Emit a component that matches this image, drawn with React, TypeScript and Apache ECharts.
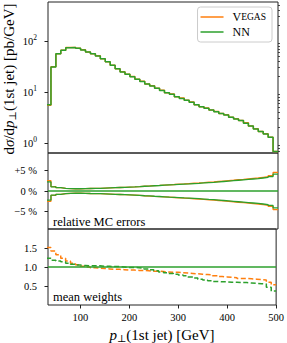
import React, { useEffect, useRef } from 'react';
import * as echarts from 'echarts';

// Bin edges of the p_T(1st jet) histogram [GeV]
const BIN_EDGES = [30, 40, 50, 60, 70, 80, 90, 100, 110, 120, 130, 140, 150, 160, 170, 180, 190, 200,
  210, 220, 230, 240, 250, 260, 270, 280, 290, 300, 310, 320, 330, 340, 350, 360, 370, 380, 390, 400,
  410, 420, 430, 440, 450, 460, 470, 480, 490, 500];

// dσ/dp⊥ [pb/GeV]
const VEGAS_XS = [5.5, 31.2, 56.5, 66, 74.5, 75, 72, 67.5, 61, 56, 51.5, 45, 39.3, 33.5, 28.5, 25.1, 22.3, 20.2,
  17.8, 16.2, 14.4, 13.2, 11.8, 10.8, 9.7, 9.1, 8.1, 7.6, 6.9, 6.35, 5.65, 5.15, 4.85, 4.45, 4.15, 3.8, 3.6, 3.2,
  2.98, 2.75, 2.5, 2.15, 1.9, 1.68, 1.52, 1.3, 0.68];
const NN_XS = [5.6, 31, 56, 66, 74, 75, 72, 67, 61, 56, 51, 45, 39, 33.5, 28.5, 24.8, 22.3, 20,
  17.8, 16, 14.4, 13.1, 11.8, 10.7, 9.7, 9.0, 8.1, 7.5, 6.9, 6.3, 5.6, 5.15, 4.8, 4.45, 4.1, 3.8, 3.55, 3.2,
  2.95, 2.75, 2.45, 2.15, 1.88, 1.68, 1.5, 1.3, 0.68];

// relative MC errors [%]
const VEGAS_ERR = [2.5, 1.05, 0.8, 0.65, 0.58, 0.55, 0.55, 0.57, 0.6, 0.62, 0.65, 0.7, 0.75, 0.8, 0.85, 0.9, 0.95, 1.0,
  1.07, 1.15, 1.22, 1.3, 1.36, 1.43, 1.5, 1.57, 1.65, 1.72, 1.8, 1.88, 1.95, 2.03, 2.12, 2.2, 2.3, 2.4, 2.5, 2.6,
  2.72, 2.83, 2.95, 3.05, 3.15, 3.3, 3.45, 3.7, 4.5];
const NN_ERR = [2.2, 1.0, 0.8, 0.65, 0.58, 0.55, 0.55, 0.57, 0.6, 0.62, 0.65, 0.7, 0.75, 0.8, 0.85, 0.9, 0.95, 1.0,
  1.07, 1.15, 1.2, 1.27, 1.33, 1.4, 1.47, 1.53, 1.6, 1.67, 1.73, 1.8, 1.87, 1.95, 2.03, 2.1, 2.2, 2.3, 2.4, 2.5,
  2.6, 2.7, 2.8, 2.9, 3.0, 3.15, 3.3, 3.5, 4.1];

// mean weights
const VEGAS_W = [1.51, 1.42, 1.32, 1.23, 1.16, 1.10, 1.06, 1.02, 1.00, 0.98, 0.97, 0.96, 0.95, 0.94, 0.94, 0.93, 0.92, 0.92,
  0.91, 0.91, 0.90, 0.89, 0.89, 0.88, 0.87, 0.86, 0.86, 0.85, 0.84, 0.83, 0.82, 0.81, 0.80, 0.79, 0.77, 0.75, 0.74, 0.73,
  0.72, 0.70, 0.70, 0.69, 0.68, 0.67, 0.66, 0.60, 0.53];
const NN_W = [1.23, 1.18, 1.16, 1.14, 1.10, 1.07, 1.05, 1.04, 1.03, 1.03, 1.03, 1.02, 1.02, 1.01, 1.01, 1.00, 0.99, 0.99,
  0.98, 0.97, 0.95, 0.93, 0.90, 0.87, 0.85, 0.83, 0.81, 0.79, 0.77, 0.74, 0.71, 0.68, 0.66, 0.64, 0.62, 0.61, 0.61, 0.60,
  0.60, 0.59, 0.59, 0.58, 0.57, 0.56, 0.55, 0.47, 0.37];

// axis ticks
const X_TICKS = [100, 200, 300, 400, 500];
const LOG_MAJOR = [1, 10, 100];
const LOG_MINOR = [0.7, 0.8, 0.9, 2, 3, 4, 5, 6, 7, 8, 9, 20, 30, 40, 50, 60, 70, 80, 90, 200, 300, 400, 500];
const ERR_TICKS = [-5, 0, 5];
const W_TICKS = [0.5, 1.0, 1.5];

const FONT = '"Liberation Serif", "DejaVu Serif", serif';
const ORANGE = '#ff7f0e';
const GREEN = '#2ca02c';
const AXIS_COLOR = '#222';
const TICK_FS = 10.5;
const TITLE_FS = 15;

function stepPoints(values: number[], sign = 1): number[][] {
  const pts = values.map((v, i) => [BIN_EDGES[i], sign * v]);
  pts.push([BIN_EDGES[values.length], sign * values[values.length - 1]]);
  return pts;
}

function buildOption(): any {
  const grids = [
    { left: 48, right: 9, top: 2, height: 151 },
    { left: 48, right: 9, top: 153, height: 76 },
    { left: 48, right: 9, top: 229, height: 76 },
  ].map((g) => ({ ...g, show: true, borderColor: AXIS_COLOR, borderWidth: 1, backgroundColor: 'transparent' }));

  const xAxes = [0, 1, 2].map((i) => ({
    type: 'value',
    gridIndex: i,
    min: 34,
    max: 500,
    axisLine: { show: false },
    splitLine: { show: false },
    axisTick: i === 2
      ? { show: true, customValues: X_TICKS, length: 3.5, lineStyle: { color: AXIS_COLOR } }
      : { show: false },
    axisLabel: i === 2
      ? { show: true, customValues: X_TICKS, margin: 7, fontFamily: FONT, fontSize: TICK_FS, color: '#000' }
      : { show: false },
  }));

  const yAxes = [
    {
      type: 'log', logBase: 10, gridIndex: 0, min: 0.637, max: 582,
      axisLine: { show: false }, splitLine: { show: false }, minorTick: { show: false },
      axisTick: { show: true, customValues: LOG_MAJOR, length: 3.5, lineStyle: { color: AXIS_COLOR } },
      axisLabel: {
        show: true, customValues: LOG_MAJOR, margin: 11, fontFamily: FONT, fontSize: TICK_FS, color: '#000',
        formatter: (v: number) => `{b|10}{s|${Math.round(Math.log10(v))}}`,
        rich: {
          b: { fontFamily: FONT, fontSize: TICK_FS, color: '#000' },
          s: { fontFamily: FONT, fontSize: 7.5, color: '#000', padding: [0, 0, 7, 0] },
        },
      },
    },
    {
      type: 'log', logBase: 10, gridIndex: 0, min: 0.637, max: 582,
      axisLine: { show: false }, splitLine: { show: false }, minorTick: { show: false },
      axisTick: { show: true, customValues: LOG_MINOR, length: 2, lineStyle: { color: AXIS_COLOR, width: 0.8 } },
      axisLabel: { show: false },
    },
    {
      type: 'value', gridIndex: 1, min: -9.2, max: 9.2,
      axisLine: { show: false }, splitLine: { show: false },
      axisTick: { show: true, customValues: ERR_TICKS, length: 3.5, lineStyle: { color: AXIS_COLOR } },
      axisLabel: {
        show: true, customValues: ERR_TICKS, margin: 11, fontFamily: FONT, fontSize: TICK_FS, color: '#000',
        formatter: (v: number) => (v > 0 ? `+${v} %` : v < 0 ? `\u2212${-v} %` : '0 %'),
      },
    },
    {
      type: 'value', gridIndex: 2, min: 0, max: 2,
      axisLine: { show: false }, splitLine: { show: false },
      axisTick: { show: true, customValues: W_TICKS, length: 3.5, lineStyle: { color: AXIS_COLOR } },
      axisLabel: {
        show: true, customValues: W_TICKS, margin: 11, fontFamily: FONT, fontSize: TICK_FS, color: '#000',
        formatter: (v: number) => v.toFixed(1),
      },
    },
  ];

  const base = { type: 'line', step: 'end', symbol: 'none', showSymbol: false, silent: true };
  const series: any[] = [
    { ...base, name: 'Vegas', xAxisIndex: 0, yAxisIndex: 0, data: stepPoints(VEGAS_XS), itemStyle: { color: ORANGE }, lineStyle: { color: ORANGE, width: 1.5 }, z: 2 },
    { ...base, name: 'NN', xAxisIndex: 0, yAxisIndex: 0, data: stepPoints(NN_XS), itemStyle: { color: GREEN }, lineStyle: { color: GREEN, width: 1.5 }, z: 3 },

    { ...base, name: 'Vegas err+', xAxisIndex: 1, yAxisIndex: 2, data: stepPoints(VEGAS_ERR, 1), lineStyle: { color: ORANGE, width: 1.3 }, z: 2 },
    { ...base, name: 'Vegas err-', xAxisIndex: 1, yAxisIndex: 2, data: stepPoints(VEGAS_ERR, -1), lineStyle: { color: ORANGE, width: 1.3 }, z: 2 },
    {
      ...base, name: 'NN err+', xAxisIndex: 1, yAxisIndex: 2, data: stepPoints(NN_ERR, 1), lineStyle: { color: GREEN, width: 1.3 }, z: 3,
      markLine: { silent: true, symbol: 'none', label: { show: false }, lineStyle: { color: GREEN, width: 1.5, type: 'solid' }, data: [{ yAxis: 0 }] },
    },
    { ...base, name: 'NN err-', xAxisIndex: 1, yAxisIndex: 2, data: stepPoints(NN_ERR, -1), lineStyle: { color: GREEN, width: 1.3 }, z: 3 },

    { ...base, name: 'Vegas w', xAxisIndex: 2, yAxisIndex: 3, data: stepPoints(VEGAS_W), lineStyle: { color: ORANGE, width: 1.5, type: [5, 2.5] }, z: 2 },
    {
      ...base, name: 'NN w', xAxisIndex: 2, yAxisIndex: 3, data: stepPoints(NN_W), lineStyle: { color: GREEN, width: 1.5, type: [5, 2.5] }, z: 3,
      markLine: { silent: true, symbol: 'none', label: { show: false }, lineStyle: { color: GREEN, width: 1.5, type: 'solid' }, data: [{ yAxis: 1 }] },
    },
  ];

  const titleRich = {
    n: { fontFamily: FONT, fontSize: TITLE_FS, fill: '#000', color: '#000' },
    i: { fontFamily: FONT, fontSize: TITLE_FS, fontStyle: 'italic', fill: '#000', color: '#000' },
    sub: { fontFamily: FONT, fontSize: 10, fill: '#000', color: '#000', padding: [7, 0, 0, 0] },
  };

  return {
    animation: false,
    backgroundColor: '#fff',
    grid: grids,
    xAxis: xAxes,
    yAxis: yAxes,
    series,
    legend: {
      data: [{ name: 'Vegas', icon: 'rect' }, { name: 'NN', icon: 'rect' }],
      orient: 'vertical',
      right: 15,
      top: 7,
      itemWidth: 23,
      itemHeight: 1.5,
      itemGap: 3,
      padding: [4, 6, 4, 3],
      borderColor: '#ccc',
      borderWidth: 1,
      borderRadius: 3,
      backgroundColor: 'rgba(255,255,255,0.85)',
      selectedMode: false,
      formatter: (name: string) => (name === 'Vegas' ? '{a|V}{b|EGAS}' : `{a|${name}}`),
      textStyle: {
        fontFamily: FONT, fontSize: 12, color: '#000', padding: [0, 0, 0, 4],
        rich: {
          a: { fontFamily: FONT, fontSize: 12, color: '#000' },
          b: { fontFamily: FONT, fontSize: 9.5, color: '#000' },
        },
      },
    },
    graphic: [
      {
        type: 'text', x: 9, y: 79, rotation: Math.PI / 2, silent: true,
        style: {
          text: '{n|d}{i|σ}{n|/d}{i|p}{sub|⊥}{n|(1st jet) [pb/GeV]}',
          align: 'center', verticalAlign: 'middle', textAlign: 'center', textVerticalAlign: 'middle',
          fill: '#000',
          rich: titleRich,
        },
      },
      {
        type: 'text', x: 162, y: 335, silent: true,
        style: {
          text: '{i|p}{sub|⊥}{n|(1st jet) [GeV]}',
          align: 'center', verticalAlign: 'middle', textAlign: 'center', textVerticalAlign: 'middle',
          fill: '#000',
          rich: titleRich,
        },
      },
      {
        type: 'text', x: 53, y: 222, silent: true,
        style: {
          text: 'relative MC errors', fontFamily: FONT, fontSize: 12.5, fill: '#000',
          align: 'left', verticalAlign: 'middle', textAlign: 'left', textVerticalAlign: 'middle',
        },
      },
      {
        type: 'text', x: 53, y: 297, silent: true,
        style: {
          text: 'mean weights', fontFamily: FONT, fontSize: 12.5, fill: '#000',
          align: 'left', verticalAlign: 'middle', textAlign: 'left', textVerticalAlign: 'middle',
        },
      },
    ],
  };
}

export default function App() {
  const ref = useRef<HTMLDivElement>(null);
  useEffect(() => {
    document.body.style.margin = '0';
    const chart = echarts.init(ref.current!, null, { renderer: 'svg' });
    chart.setOption(buildOption());
    return () => chart.dispose();
  }, []);
  return <div ref={ref} style={{ position: 'absolute', left: 0, top: 0, width: 287, height: 343 }} />;
}
